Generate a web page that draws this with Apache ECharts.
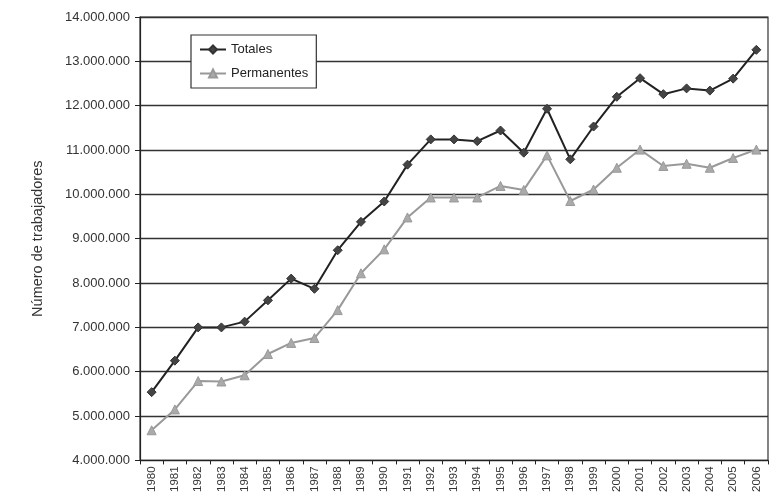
<!DOCTYPE html>
<html><head><meta charset="utf-8">
<script src="https://cdn.jsdelivr.net/npm/echarts@6/dist/echarts.min.js"></script>
<style>html,body{margin:0;padding:0;background:#fff}#c{width:777px;height:495px}</style>
</head><body><div id="c"></div>
<script>
const years = ['1980','1981','1982','1983','1984','1985','1986','1987','1988','1989','1990','1991','1992','1993','1994','1995','1996','1997','1998','1999','2000','2001','2002','2003','2004','2005','2006'];
const totales = [5540000,6250000,7000000,7000000,7130000,7610000,8100000,7870000,8740000,9380000,9840000,10670000,11240000,11240000,11200000,11440000,10940000,11930000,10790000,11530000,12200000,12620000,12260000,12390000,12340000,12610000,13260000];
const permanentes = [4680000,5150000,5790000,5780000,5920000,6400000,6650000,6760000,7390000,8220000,8760000,9480000,9930000,9930000,9930000,10190000,10100000,10880000,9850000,10110000,10600000,11010000,10640000,10690000,10600000,10820000,11010000];
const yTicks = {min:4000000, max:14000000, interval:1000000};
const seriesNames = ['Totales','Permanentes'];

const font = '"Liberation Sans Narrow","Arial Narrow","Liberation Sans",sans-serif';
function fmt(v){return String(v).replace(/\B(?=(\d{3})+(?!\d))/g,'.');}
const chart = echarts.init(document.getElementById('c'));
chart.setOption({
  backgroundColor:'#fff',
  animation:false,
  grid:{left:140,right:9,top:17,bottom:33,show:true,borderColor:'#333',borderWidth:1.2,backgroundColor:'transparent'},
  legend:{
    orient:'vertical',left:191,top:35,itemWidth:26,itemHeight:10,itemGap:11,
    padding:[8,8,8,8],borderColor:'#333',borderWidth:1.2,backgroundColor:'#fff',
    textStyle:{fontFamily:font,fontSize:13,color:'#222'},
    data:seriesNames
  },
  xAxis:{
    type:'category',data:years,boundaryGap:true,
    axisLine:{lineStyle:{color:'#222',width:1.2}},
    axisTick:{show:true,alignWithLabel:false,length:4,lineStyle:{color:'#222'}},
    axisLabel:{rotate:90,fontFamily:font,fontSize:11.5,color:'#333',margin:6,interval:0}
  },
  yAxis:{
    type:'value',min:yTicks.min,max:yTicks.max,interval:yTicks.interval,
    name:'Número de trabajadores',nameLocation:'middle',nameGap:95,
    nameTextStyle:{fontFamily:font,fontSize:14.5,color:'#333'},
    axisLine:{show:true,lineStyle:{color:'#222',width:1.2}},
    axisTick:{show:true,length:5,lineStyle:{color:'#222'}},
    axisLabel:{formatter:fmt,fontFamily:font,fontSize:13,color:'#333',margin:10},
    splitLine:{lineStyle:{color:'#333',width:1.4}}
  },
  series:[
    {name:seriesNames[0],type:'line',data:totales,symbol:'diamond',symbolSize:9,
     lineStyle:{color:'#222',width:2},itemStyle:{color:'#444',borderColor:'#333',borderWidth:1}},
    {name:seriesNames[1],type:'line',data:permanentes,symbol:'triangle',symbolSize:9,
     lineStyle:{color:'#999',width:2},itemStyle:{color:'#aaa',borderColor:'#999',borderWidth:1}}
  ]
});
</script></body></html>
